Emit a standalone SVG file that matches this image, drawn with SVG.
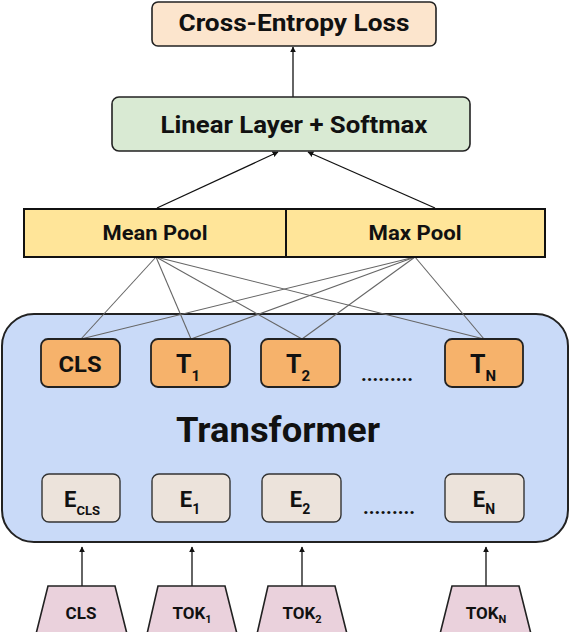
<svg xmlns="http://www.w3.org/2000/svg" width="570" height="632" viewBox="0 0 570 632">
<defs>
<style>
text{font-family:Roboto,"Liberation Sans",sans-serif;font-weight:bold;fill:#111;text-anchor:middle}
.box{stroke:#222;stroke-width:1.6}
.tb{fill:#f6b26b;stroke:#222;stroke-width:1.8}
.eb{fill:#ece3db;stroke:#333;stroke-width:1.4}
.tr{fill:#ead1dc;stroke:#222;stroke-width:1.6}
.fan{stroke:#666;stroke-width:1.1;fill:none}
.arr{stroke:#111;stroke-width:1.3;fill:none;marker-end:url(#ah)}
</style>
<marker id="ah" viewBox="0 0 10 10" refX="9" refY="5" markerWidth="6" markerHeight="6" orient="auto" markerUnits="userSpaceOnUse">
<path d="M0,0 L10,5 L0,10 z" fill="#111"/>
</marker>
</defs>
<rect width="570" height="632" fill="#fff"/>

<g id="transformer">
<rect x="2" y="314" width="566" height="228" rx="32" fill="#c9daf8" stroke="#222" stroke-width="2"/>
<text x="278" y="442" font-size="35" textLength="204" lengthAdjust="spacingAndGlyphs">Transformer</text>
</g>

<g id="connectors">
<line class="arr" x1="293" y1="97" x2="293" y2="47"/>
<line class="arr" x1="157" y1="208" x2="278" y2="152"/>
<line class="arr" x1="435" y1="208" x2="308" y2="152"/>
<line class="fan" x1="156" y1="257" x2="81" y2="339"/>
<line class="fan" x1="156" y1="257" x2="191" y2="339"/>
<line class="fan" x1="156" y1="257" x2="302" y2="339"/>
<line class="fan" x1="156" y1="257" x2="484" y2="339"/>
<line class="fan" x1="415" y1="257" x2="81" y2="339"/>
<line class="fan" x1="415" y1="257" x2="191" y2="339"/>
<line class="fan" x1="415" y1="257" x2="302" y2="339"/>
<line class="fan" x1="415" y1="257" x2="484" y2="339"/>
<line class="arr" x1="82" y1="586" x2="82" y2="547"/>
<line class="arr" x1="192" y1="586" x2="192" y2="547"/>
<line class="arr" x1="302" y1="586" x2="302" y2="547"/>
<line class="arr" x1="486" y1="586" x2="486" y2="547" stroke-width="1.8"/>
</g>

<g id="loss">
<rect class="box" x="152" y="2" width="284" height="44" rx="6" fill="#fce5cd"/>
<text x="294" y="31" font-size="24" textLength="231" lengthAdjust="spacingAndGlyphs">Cross-Entropy Loss</text>
</g>

<g id="linear">
<rect class="box" x="112" y="97" width="358" height="54" rx="7" fill="#d9ead3"/>
<text x="294" y="133" font-size="23" textLength="267" lengthAdjust="spacingAndGlyphs">Linear Layer + Softmax</text>
</g>

<g id="meanpool">
<rect x="24" y="209" width="262" height="48" fill="#ffe599" stroke="#111" stroke-width="2"/>
<text x="155" y="240" font-size="20" textLength="105" lengthAdjust="spacingAndGlyphs">Mean Pool</text>
</g>
<g id="maxpool">
<rect x="286" y="209" width="259" height="48" fill="#ffe599" stroke="#111" stroke-width="2"/>
<text x="415" y="240" font-size="20" textLength="93" lengthAdjust="spacingAndGlyphs">Max Pool</text>
</g>

<g id="t-cls">
<rect class="tb" x="41" y="339" width="79" height="48" rx="7"/>
<text x="80" y="372" font-size="22" textLength="43" lengthAdjust="spacingAndGlyphs">CLS</text>
</g>
<g id="t-1">
<rect class="tb" x="151" y="339" width="79" height="48" rx="7"/>
<text x="188" y="373" font-size="25">T<tspan font-size="15" dy="8">1</tspan></text>
</g>
<g id="t-2">
<rect class="tb" x="261" y="339" width="79" height="48" rx="7"/>
<text x="298" y="373" font-size="25">T<tspan font-size="15" dy="8">2</tspan></text>
</g>
<g id="t-dots">
<text x="387" y="381" font-size="20">.........</text>
</g>
<g id="t-n">
<rect class="tb" x="445" y="339" width="78" height="48" rx="7"/>
<text x="483" y="373" font-size="25">T<tspan font-size="15" dy="8">N</tspan></text>
</g>

<g id="e-cls">
<rect class="eb" x="42" y="474" width="78" height="48" rx="7"/>
<text x="82" y="507" font-size="22">E<tspan font-size="13" dy="8">CLS</tspan></text>
</g>
<g id="e-1">
<rect class="eb" x="152" y="474" width="78" height="48" rx="7"/>
<text x="190" y="507" font-size="22">E<tspan font-size="14" dy="7">1</tspan></text>
</g>
<g id="e-2">
<rect class="eb" x="262" y="474" width="79" height="48" rx="7"/>
<text x="300" y="507" font-size="22">E<tspan font-size="14" dy="7">2</tspan></text>
</g>
<g id="e-dots">
<text x="389" y="514" font-size="20">.........</text>
</g>
<g id="e-n">
<rect class="eb" x="445" y="474" width="79" height="48" rx="7"/>
<text x="484" y="507" font-size="22">E<tspan font-size="14" dy="7">N</tspan></text>
</g>

<g id="tok-cls">
<polygon class="tr" points="48,586 115,586 127,634 36,634"/>
<text x="81" y="619" font-size="17">CLS</text>
</g>
<g id="tok-1">
<polygon class="tr" points="158,586 225,586 237,634 147,634"/>
<text x="192" y="619" font-size="17">TOK<tspan font-size="11" dy="4">1</tspan></text>
</g>
<g id="tok-2">
<polygon class="tr" points="268,586 335,586 347,634 257,634"/>
<text x="302" y="619" font-size="17">TOK<tspan font-size="11" dy="4">2</tspan></text>
</g>
<g id="tok-n">
<polygon class="tr" points="452,586 519,586 531,634 440,634"/>
<text x="486" y="619" font-size="17">TOK<tspan font-size="11" dy="4">N</tspan></text>
</g>
</svg>
